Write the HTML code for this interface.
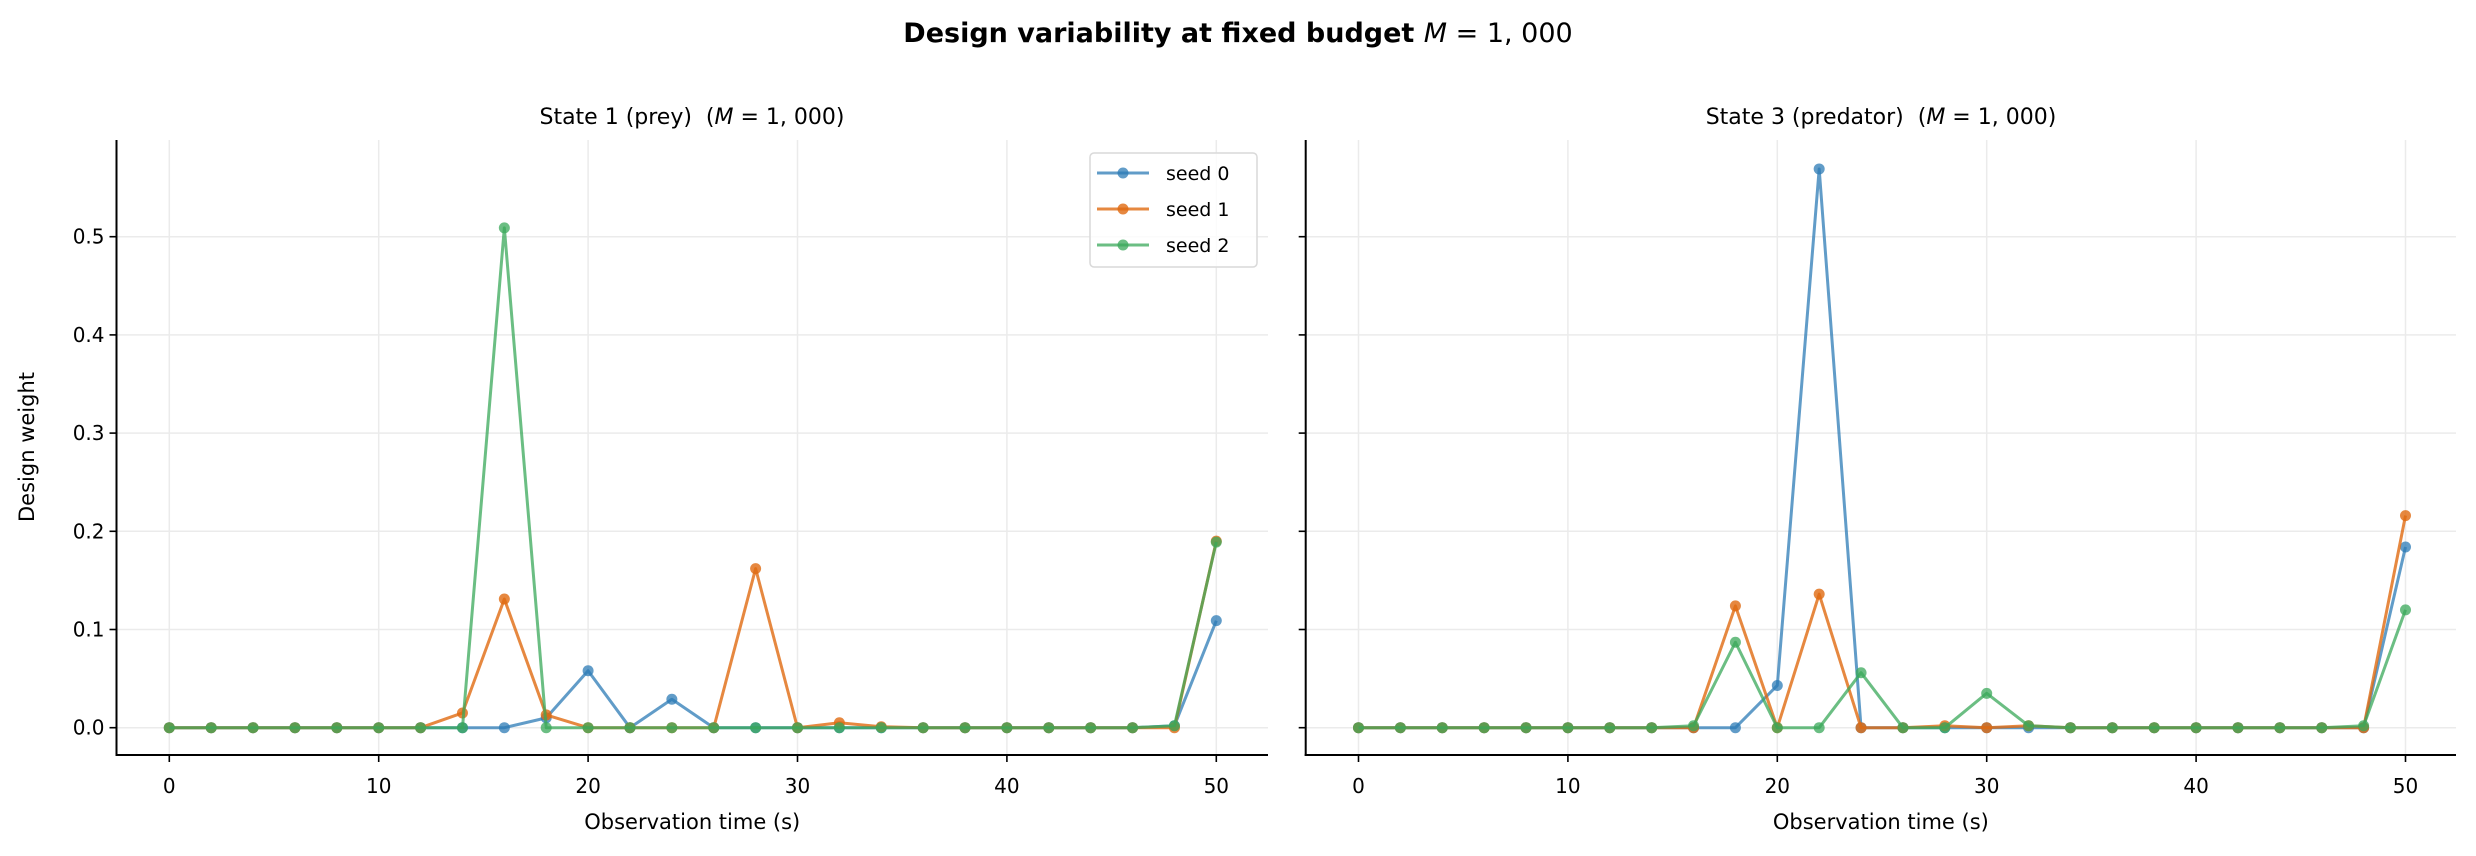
<!DOCTYPE html>
<html><head><meta charset="utf-8"><style>body{margin:0;background:#fff}svg{display:block}</style></head><body>
<svg width="2476" height="856" viewBox="0 0 2476 856" xmlns="http://www.w3.org/2000/svg" font-family="'DejaVu Sans','Liberation Sans',sans-serif">
<rect width="2476" height="856" fill="#fff"/>
<text x="1238" y="42" text-anchor="middle" font-size="27" font-weight="bold">Design variability at fixed budget <tspan font-style="italic" font-weight="normal">M</tspan><tspan font-weight="normal"> = 1, 000</tspan></text>
<text x="692" y="124" text-anchor="middle" font-size="22">State 1 (prey)&#160;&#160;(<tspan font-style="italic">M</tspan> = 1, 000)</text>
<text x="1881" y="124" text-anchor="middle" font-size="22">State 3 (predator)&#160;&#160;(<tspan font-style="italic">M</tspan> = 1, 000)</text>
<g id="axes"></g>
<script>
const ns="http://www.w3.org/2000/svg";
const g=document.getElementById('axes');
function el(t,a,txt){const e=document.createElementNS(ns,t);for(const k in a)e.setAttribute(k,a[k]);if(txt!==undefined)e.textContent=txt;g.appendChild(e);return e;}
const Y0=727.7,YS=982,XS=20.94;
const xs=[];for(let i=0;i<=50;i+=2)xs.push(i);
function mk(arr){const d=new Array(26).fill(0);for(const k in arr)d[k/2]=arr[k];return d;}
const panels=[
 {L:116.5,R:1268,x0:169.3,ylab:true,
  data:[mk({18:0.01,20:0.058,24:0.029,48:0.002,50:0.109}),
        mk({14:0.015,16:0.131,18:0.013,28:0.162,32:0.005,34:0.001,50:0.19}),
        mk({16:0.509,48:0.002,50:0.189})]},
 {L:1305.7,R:2456,x0:1358.5,ylab:false,
  data:[mk({20:0.043,22:0.569,50:0.184}),
        mk({18:0.124,22:0.136,28:0.002,32:0.002,50:0.216}),
        mk({16:0.002,18:0.087,24:0.056,30:0.035,32:0.002,48:0.002,50:0.12})]}
];
const cols=['#2c7bb6','#e06a10','#3aa85a'];
const op=[0.75,0.8,0.75];
for(const p of panels){
 const X=v=>p.x0+v*XS, Y=v=>Y0-v*YS;
 for(let v=0;v<=50;v+=10)el('line',{x1:X(v),x2:X(v),y1:140,y2:755,stroke:'#ebebeb','stroke-width':1.5});
 for(let v=0;v<=5;v++)el('line',{x1:p.L,x2:p.R,y1:Y(v/10),y2:Y(v/10),stroke:'#ebebeb','stroke-width':1.5});
 p.data.forEach((d,i)=>{
  el('polyline',{points:xs.map((x,j)=>X(x)+','+Y(d[j])).join(' '),fill:'none',stroke:cols[i],'stroke-width':3,'stroke-opacity':op[i],'stroke-linejoin':'round'});
  xs.forEach((x,j)=>el('circle',{cx:X(x),cy:Y(d[j]),r:5.5,fill:cols[i],'fill-opacity':op[i]}));
 });
 el('line',{x1:p.L,x2:p.L,y1:140,y2:756,stroke:'#000','stroke-width':2});
 el('line',{x1:p.L-1,x2:p.R,y1:755,y2:755,stroke:'#000','stroke-width':2});
 for(let v=0;v<=50;v+=10){el('line',{x1:X(v),x2:X(v),y1:755,y2:762,stroke:'#000','stroke-width':1.6});
  el('text',{x:X(v),y:793,'text-anchor':'middle','font-size':20},String(v));}
 for(let v=0;v<=5;v++){el('line',{x1:p.L-7,x2:p.L,y1:Y(v/10),y2:Y(v/10),stroke:'#000','stroke-width':1.6});
  if(p.ylab)el('text',{x:p.L-12,y:Y(v/10)+7,'text-anchor':'end','font-size':20},(v/10).toFixed(1));}
 el('text',{x:(p.L+p.R)/2,y:829,'text-anchor':'middle','font-size':21},'Observation time (s)');
}
el('text',{x:34,y:447,'text-anchor':'middle','font-size':21,transform:'rotate(-90 34 447)'},'Design weight');
el('rect',{x:1090,y:153,width:167,height:114,rx:4,fill:'#fff','fill-opacity':0.8,stroke:'#d9d9d9','stroke-width':1.5});
['seed 0','seed 1','seed 2'].forEach((s,i)=>{const y=172+i*36;
 el('line',{x1:1097,x2:1149,y1:y+1,y2:y+1,stroke:cols[i],'stroke-width':3,'stroke-opacity':op[i]});
 el('circle',{cx:1123,cy:y+1,r:5.5,fill:cols[i],'fill-opacity':op[i]});
 el('text',{x:1166,y:y+8,'font-size':19},s);});
</script>
</svg>
</body></html>
